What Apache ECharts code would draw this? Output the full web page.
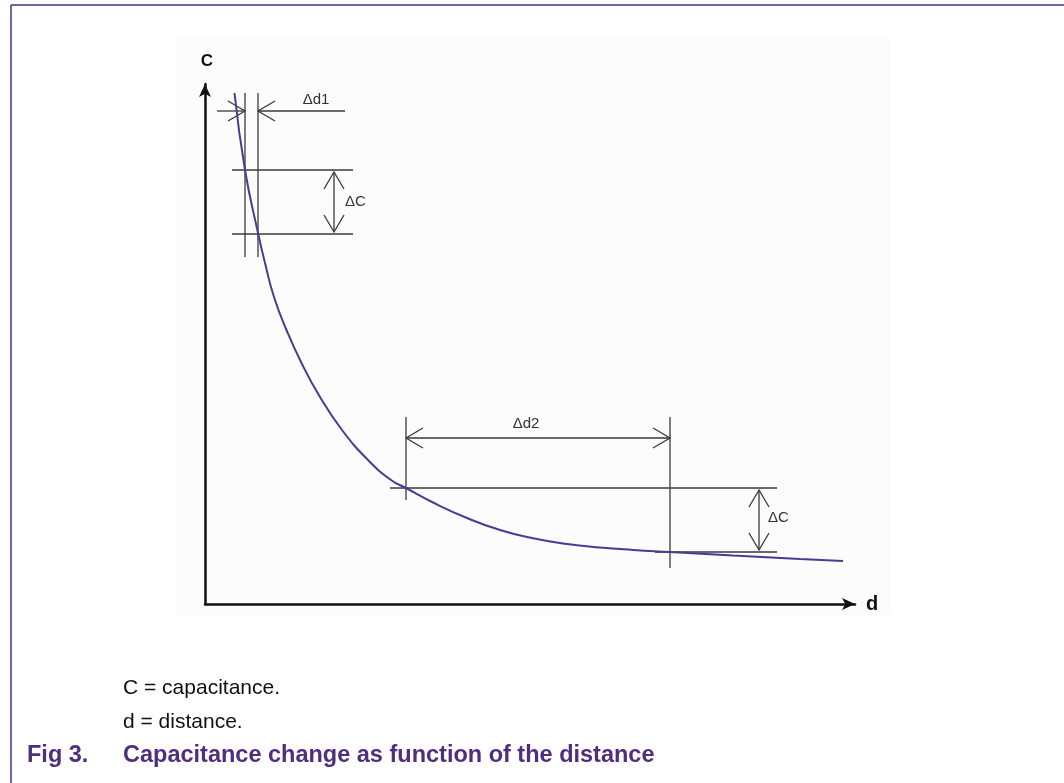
<!DOCTYPE html>
<html>
<head>
<meta charset="utf-8">
<title>Capacitance change as function of the distance</title>
<script src="https://cdn.jsdelivr.net/npm/echarts@6/dist/echarts.min.js"></script>
<style>
  html, body { margin: 0; padding: 0; background: #ffffff; }
  #chart { width: 1064px; height: 783px; }
</style>
</head>
<body>
<div id="chart"></div>
<script>
// Capacitance curve C(d), arbitrary units
const distance    = [2.95, 4.0, 5.3, 6.0, 6.9, 8.15, 9.65, 11.5, 13.7, 16.3, 18.6, 20.1, 22.8, 26.2, 29.5, 32.8, 36.2, 39.5, 42.8, 46.5, 52.8, 59.5, 63.8];
const capacitance = [51.1, 43.4, 37.1, 34.1, 30.7, 27.4, 24.1, 20.7, 17.4, 14.4, 12.4, 11.6, 10.15, 8.6, 7.4, 6.57, 6.0, 5.65, 5.41, 5.2, 4.84, 4.5, 4.3];

// Guide segments: [d1, C1, d2, C2, head at start, head at end]
const guideSegments = [
  // Δd1 near small distance
  [4.0, 51.1, 4.0, 34.7, 0, 0],
  [5.3, 51.1, 5.3, 34.7, 0, 0],
  [1.2, 49.3, 4.0, 49.3, 0, 1],
  [14.0, 49.3, 5.3, 49.3, 0, 1],
  [2.7, 43.4, 14.8, 43.4, 0, 0],
  [2.7, 37.0, 14.8, 37.0, 0, 0],
  [12.9, 43.2, 12.9, 37.2, 1, 1],
  // Δd2 at large distance
  [20.1, 18.7, 20.1, 10.4, 0, 0],
  [46.5, 18.7, 46.5, 3.6, 0, 0],
  [20.1, 16.6, 46.5, 16.6, 1, 1],
  [18.5, 11.6, 57.2, 11.6, 0, 0],
  [45.0, 5.2, 57.2, 5.2, 0, 0],
  [55.4, 11.4, 55.4, 5.4, 1, 1]
];

// Annotation labels and where they sit on the axes
const labelTexts = ['Δd1', 'ΔC', 'Δd2', 'ΔC'];
const labelD     = [11.1, 14.0, 32.1, 56.3];
const labelC     = [50.4, 40.2, 18.0, 8.6];
const labelAlign = ['center', 'left', 'center', 'left'];

// Caption lines
const legendLines = ['C = capacitance.', 'd = distance.'];
const figureNumber = 'Fig 3.';
const figureTitle = 'Capacitance change as function of the distance';

const FONT = 'Arial, "Liberation Sans", Helvetica, sans-serif';
const PURPLE = '#4f2d7f';
const GUIDE = '#3a3a3a';

function chevron(tip, from) {
  const dx = tip[0] - from[0], dy = tip[1] - from[1];
  const len = Math.hypot(dx, dy) || 1;
  const ux = dx / len, uy = dy / len;
  const nx = -uy, ny = ux;
  const L = 17, W = 10;
  return {
    type: 'polyline',
    shape: { points: [
      [tip[0] - ux * L + nx * W, tip[1] - uy * L + ny * W],
      [tip[0], tip[1]],
      [tip[0] - ux * L - nx * W, tip[1] - uy * L - ny * W]
    ] },
    style: { stroke: GUIDE, lineWidth: 1.3, fill: null }
  };
}

function renderGuide(params, api) {
  const a = api.coord([api.value(0), api.value(1)]);
  const b = api.coord([api.value(2), api.value(3)]);
  const children = [{
    type: 'line',
    shape: { x1: a[0], y1: a[1], x2: b[0], y2: b[1] },
    style: { stroke: GUIDE, lineWidth: 1.3 }
  }];
  if (api.value(4)) children.push(chevron(a, b));
  if (api.value(5)) children.push(chevron(b, a));
  return { type: 'group', children };
}

function renderLabel(params, api) {
  const p = api.coord([api.value(0), api.value(1)]);
  const i = params.dataIndex;
  return {
    type: 'text',
    x: p[0], y: p[1],
    style: {
      text: labelTexts[i],
      fill: '#333333',
      font: '15px ' + FONT,
      align: labelAlign[i],
      verticalAlign: 'middle'
    }
  };
}

const chart = echarts.init(document.getElementById('chart'), null, { renderer: 'canvas' });

chart.setOption({
  backgroundColor: '#ffffff',
  animation: false,
  grid: { left: 205, top: 84, width: 650, height: 520, containLabel: false },
  xAxis: {
    type: 'value', min: 0, max: 65,
    name: 'd', nameLocation: 'end', nameGap: 11,
    nameTextStyle: { fontFamily: FONT, fontWeight: 'bold', fontSize: 20, color: '#111', verticalAlign: 'middle', padding: [18, 0, 0, 0] },
    axisLine: { show: true, onZero: false, symbol: ['none', 'arrow'], symbolSize: [9, 13], symbolOffset: [0, 0],
      lineStyle: { color: '#111', width: 2.5 } },
    axisTick: { show: false }, axisLabel: { show: false }, splitLine: { show: false }
  },
  yAxis: {
    type: 'value', min: 0, max: 52,
    name: 'C', nameLocation: 'end', nameGap: 14,
    nameTextStyle: { fontFamily: FONT, fontWeight: 'bold', fontSize: 17, color: '#111', align: 'center', padding: [0, 0, 0, 4] },
    axisLine: { show: true, onZero: false, symbol: ['none', 'arrow'], symbolSize: [9, 13], symbolOffset: [0, 0],
      lineStyle: { color: '#111', width: 2.5 } },
    axisTick: { show: false }, axisLabel: { show: false }, splitLine: { show: false }
  },
  series: [
    {
      type: 'custom',
      name: 'guides',
      renderItem: renderGuide,
      data: guideSegments,
      z: 3,
      silent: true
    },
    {
      type: 'line',
      name: 'C(d)',
      data: distance.map((d, i) => [d, capacitance[i]]),
      smooth: 0.5,
      showSymbol: false,
      lineStyle: { color: '#453d94', width: 2 },
      z: 4,
      silent: true
    },
    {
      type: 'custom',
      name: 'labels',
      renderItem: renderLabel,
      data: labelD.map((d, i) => [d, labelC[i]]),
      z: 5,
      silent: true
    }
  ],
  graphic: [
    // page frame
    { type: 'line', shape: { x1: 11, y1: 5, x2: 1064, y2: 5 }, style: { stroke: PURPLE, lineWidth: 1.5 }, z: 10 },
    { type: 'line', shape: { x1: 11, y1: 5, x2: 11, y2: 783 }, style: { stroke: PURPLE, lineWidth: 1.5 }, z: 10 },
    // faint drawing background
    { type: 'rect', shape: { x: 176, y: 37, width: 714, height: 578 }, style: { fill: '#fcfcfc' }, z: -10 },
    // caption
    { type: 'text', x: 123, y: 688, style: { text: legendLines[0], font: '21px ' + FONT, fill: '#111', verticalAlign: 'middle' } },
    { type: 'text', x: 123, y: 722, style: { text: legendLines[1], font: '21px ' + FONT, fill: '#111', verticalAlign: 'middle' } },
    { type: 'text', x: 27, y: 756, style: { text: figureNumber, font: 'bold 23.5px ' + FONT, fill: PURPLE, verticalAlign: 'middle' } },
    { type: 'text', x: 123, y: 756, style: { text: figureTitle, font: 'bold 23.5px ' + FONT, fill: PURPLE, verticalAlign: 'middle' } }
  ]
});
</script>
</body>
</html>
